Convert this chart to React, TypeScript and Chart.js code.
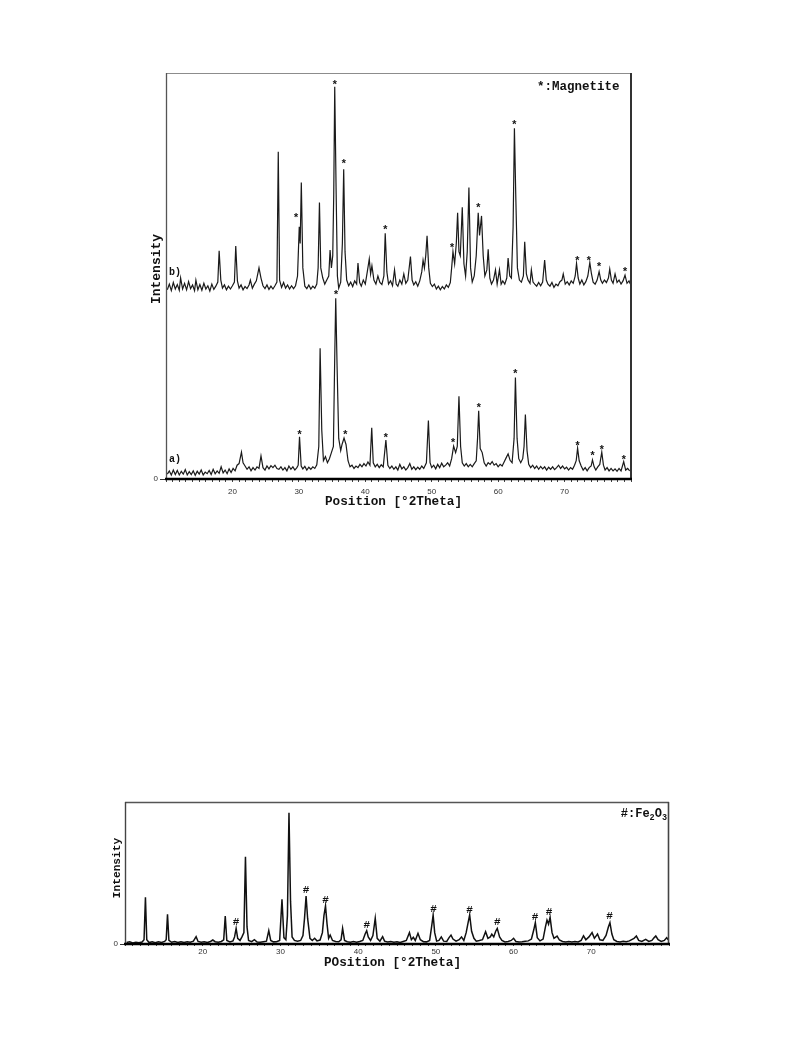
import React, { useEffect, useRef } from "react";
import { Chart, registerables } from "chart.js";

Chart.register(...registerables);

// ---------------- data ----------------
const thetaMin = 10;
const thetaMax = 80;
const xTickLabels = [20, 30, 40, 50, 60, 70];
const yTickLabels = [0];

// pattern a) (lower trace, top panel) [2theta, intensity %]
const patternA: [number, number][] = [
  [10.2, 1.2], [10.5, 2.0], [10.8, 1.0], [11.1, 2.2], [11.4, 1.1], [11.7, 2.1], [12.0, 1.0], [12.3, 1.9],
  [12.6, 1.2], [12.9, 2.3], [13.2, 1.0], [13.5, 1.8], [13.8, 1.1], [14.1, 2.0], [14.4, 0.9], [14.7, 1.9],
  [15.0, 1.2], [15.3, 2.2], [15.6, 1.0], [15.9, 1.7], [16.2, 1.3], [16.5, 2.1], [16.8, 1.1], [17.1, 2.4],
  [17.4, 1.3], [17.7, 2.0], [18.0, 1.4], [18.3, 3.0], [18.6, 1.5], [18.9, 2.2], [19.2, 1.3], [19.5, 2.5],
  [19.8, 1.6], [20.1, 2.6], [20.4, 2.0], [20.7, 3.4], [21.0, 3.8], [21.36, 6.6], [21.6, 4.0], [21.9, 3.2],
  [22.2, 2.4], [22.5, 3.0], [22.8, 2.0], [23.1, 2.8], [23.4, 2.2], [23.7, 3.0], [24.0, 2.6], [24.3, 5.7],
  [24.6, 2.8], [24.9, 2.2], [25.2, 3.2], [25.5, 2.5], [25.8, 3.3], [26.1, 2.8], [26.4, 3.4], [26.7, 2.6],
  [27.0, 2.4], [27.3, 3.0], [27.6, 2.2], [27.9, 2.8], [28.2, 2.0], [28.5, 3.2], [28.8, 2.4], [29.1, 3.0],
  [29.4, 2.2], [29.7, 2.8], [29.9, 3.4], [30.1, 10.4], [30.35, 3.2], [30.6, 2.5], [30.9, 3.1], [31.2, 2.2],
  [31.5, 2.9], [31.8, 2.4], [32.1, 3.0], [32.4, 2.6], [32.7, 3.5], [33.0, 8.0], [33.2, 32.2], [33.45, 12.0],
  [33.7, 4.5], [34.0, 5.5], [34.3, 4.0], [34.6, 5.0], [34.9, 6.5], [35.2, 8.0], [35.4, 30.0], [35.55, 44.5],
  [35.75, 28.0], [36.0, 10.0], [36.3, 7.0], [36.5, 8.5], [36.8, 10.1], [37.1, 8.5], [37.4, 4.5], [37.7, 3.0],
  [38.0, 3.4], [38.3, 2.6], [38.6, 3.2], [38.9, 2.8], [39.2, 3.6], [39.5, 3.0], [39.8, 3.8], [40.1, 3.2],
  [40.4, 4.2], [40.7, 3.4], [40.97, 12.6], [41.2, 4.0], [41.5, 3.0], [41.8, 3.6], [42.1, 2.8], [42.4, 3.5],
  [42.7, 3.0], [43.1, 9.6], [43.4, 3.4], [43.7, 2.6], [44.0, 3.2], [44.3, 2.4], [44.6, 3.0], [44.9, 2.2],
  [45.2, 3.6], [45.5, 2.5], [45.8, 3.0], [46.1, 2.2], [46.4, 2.8], [46.7, 3.8], [47.0, 2.4], [47.3, 3.0],
  [47.6, 2.3], [47.9, 2.9], [48.2, 2.4], [48.5, 3.2], [48.8, 2.6], [49.2, 4.0], [49.5, 14.4], [49.75, 4.0],
  [50.0, 2.8], [50.3, 3.4], [50.6, 2.5], [50.9, 3.6], [51.2, 2.8], [51.5, 3.9], [51.8, 3.0], [52.1, 3.4],
  [52.4, 4.0], [52.7, 3.2], [53.0, 5.0], [53.3, 8.1], [53.6, 6.5], [53.85, 8.0], [54.1, 20.4], [54.35, 8.0],
  [54.6, 4.0], [54.9, 3.2], [55.2, 3.8], [55.5, 3.0], [55.8, 3.6], [56.1, 3.0], [56.4, 3.8], [56.7, 4.5],
  [56.9, 10.0], [57.07, 16.8], [57.3, 7.5], [57.6, 6.5], [57.9, 4.0], [58.2, 3.2], [58.5, 4.0], [58.8, 3.6],
  [59.1, 4.3], [59.4, 3.4], [59.7, 3.8], [60.0, 3.0], [60.3, 3.6], [60.6, 3.2], [60.9, 4.2], [61.2, 5.2],
  [61.5, 6.2], [61.8, 4.6], [62.1, 4.0], [62.4, 10.0], [62.6, 25.0], [62.85, 10.0], [63.1, 5.0], [63.4, 4.0],
  [63.7, 5.0], [63.9, 8.0], [64.1, 15.9], [64.35, 7.0], [64.6, 3.6], [64.9, 2.8], [65.2, 3.4], [65.5, 2.6],
  [65.8, 3.2], [66.1, 2.4], [66.4, 3.1], [66.7, 2.5], [67.0, 3.0], [67.3, 2.2], [67.6, 2.9], [67.9, 2.4],
  [68.2, 3.0], [68.5, 2.3], [68.8, 2.8], [69.1, 3.4], [69.4, 2.6], [69.7, 3.2], [70.0, 2.5], [70.3, 2.9],
  [70.6, 2.2], [70.9, 2.8], [71.2, 2.4], [71.5, 3.4], [71.75, 4.5], [71.96, 7.6], [72.2, 4.5], [72.5, 3.2],
  [72.8, 2.2], [73.1, 2.8], [73.4, 2.0], [73.7, 2.8], [74.0, 3.2], [74.2, 4.7], [74.45, 3.0], [74.7, 2.2],
  [75.0, 3.0], [75.3, 3.6], [75.6, 6.6], [75.85, 3.4], [76.1, 2.2], [76.4, 2.8], [76.7, 2.0], [77.0, 2.6],
  [77.3, 2.0], [77.6, 2.5], [77.9, 1.9], [78.2, 2.6], [78.5, 2.0], [78.9, 4.3], [79.2, 2.2], [79.5, 2.6],
  [79.8, 2.0],
];

// pattern b) (upper trace, top panel, plotted with its offset)
const patternB: [number, number][] = [
  [10.2, 46.6], [10.5, 48.0], [10.8, 46.4], [11.1, 48.4], [11.4, 46.8], [11.7, 47.9], [12.0, 46.5], [12.2, 49.5],
  [12.5, 46.8], [12.8, 48.2], [13.1, 46.6], [13.4, 48.6], [13.7, 46.9], [14.0, 47.8], [14.3, 46.4], [14.5, 49.0],
  [14.8, 46.6], [15.1, 47.9], [15.4, 46.5], [15.7, 48.2], [16.0, 46.8], [16.3, 47.6], [16.6, 46.3], [16.9, 48.0],
  [17.2, 46.7], [17.5, 47.5], [17.8, 48.5], [18.0, 56.2], [18.25, 49.0], [18.5, 47.0], [18.8, 47.8], [19.1, 46.6],
  [19.4, 47.5], [19.7, 46.8], [20.0, 47.6], [20.3, 48.5], [20.5, 57.4], [20.75, 48.8], [21.0, 47.0], [21.3, 47.8],
  [21.6, 46.6], [21.9, 47.4], [22.2, 46.9], [22.5, 47.8], [22.7, 49.0], [23.0, 47.0], [23.3, 48.0], [23.6, 48.8],
  [24.0, 52.0], [24.3, 49.5], [24.6, 47.6], [24.9, 46.9], [25.2, 47.8], [25.5, 46.7], [25.8, 47.5], [26.1, 46.8],
  [26.4, 47.6], [26.7, 48.5], [26.9, 80.6], [27.1, 49.0], [27.4, 47.2], [27.7, 48.4], [28.0, 47.0], [28.3, 47.8],
  [28.6, 46.8], [28.9, 47.6], [29.2, 46.9], [29.5, 47.6], [29.8, 50.0], [30.06, 62.1], [30.2, 58.0], [30.37, 73.0],
  [30.6, 52.0], [30.9, 47.5], [31.2, 46.9], [31.5, 47.8], [31.8, 46.8], [32.1, 47.5], [32.4, 47.0], [32.7, 48.0],
  [32.9, 52.0], [33.1, 68.1], [33.3, 52.0], [33.6, 49.5], [33.9, 48.0], [34.2, 49.0], [34.5, 50.0], [34.7, 56.4],
  [34.9, 52.0], [35.1, 55.0], [35.25, 70.0], [35.4, 96.6], [35.6, 72.0], [35.8, 50.0], [36.0, 47.0], [36.3, 48.5],
  [36.55, 58.0], [36.75, 76.3], [36.95, 56.0], [37.2, 49.0], [37.5, 47.6], [37.8, 48.5], [38.1, 47.4], [38.4, 48.8],
  [38.7, 48.0], [38.9, 53.2], [39.15, 48.4], [39.4, 47.5], [39.7, 49.0], [40.0, 48.0], [40.3, 51.0], [40.6, 54.2],
  [40.8, 50.5], [41.0, 52.5], [41.3, 49.0], [41.6, 48.0], [41.9, 50.0], [42.2, 48.4], [42.5, 47.9], [42.8, 50.0],
  [43.0, 60.5], [43.25, 51.0], [43.5, 48.0], [43.8, 48.8], [44.1, 47.6], [44.4, 51.5], [44.65, 48.0], [44.9, 47.5],
  [45.2, 49.0], [45.5, 48.0], [45.8, 50.5], [46.1, 48.2], [46.4, 49.0], [46.8, 54.8], [47.05, 49.0], [47.3, 47.8],
  [47.6, 48.6], [47.9, 47.5], [48.2, 48.8], [48.5, 51.0], [48.7, 53.9], [48.9, 52.0], [49.1, 55.0], [49.3, 59.9],
  [49.55, 52.0], [49.8, 48.2], [50.1, 47.4], [50.4, 48.0], [50.7, 46.8], [51.0, 47.5], [51.3, 46.6], [51.6, 47.4],
  [51.9, 46.8], [52.2, 47.8], [52.5, 47.2], [52.8, 48.4], [53.0, 52.0], [53.2, 56.0], [53.45, 53.0], [53.7, 58.0],
  [53.9, 65.6], [54.1, 56.0], [54.3, 55.0], [54.6, 66.9], [54.85, 53.0], [55.1, 50.0], [55.35, 56.0], [55.6, 71.8],
  [55.85, 52.0], [56.1, 48.5], [56.4, 50.0], [56.7, 55.0], [57.0, 65.6], [57.2, 60.0], [57.5, 64.8], [57.75, 55.0],
  [58.0, 50.0], [58.3, 51.5], [58.5, 56.6], [58.75, 49.5], [59.0, 48.0], [59.3, 49.0], [59.6, 51.5], [59.85, 48.0],
  [60.2, 51.5], [60.45, 48.0], [60.7, 48.8], [61.0, 48.0], [61.3, 49.5], [61.5, 54.4], [61.75, 50.0], [62.0, 49.5],
  [62.25, 62.0], [62.45, 86.4], [62.65, 70.0], [62.9, 52.0], [63.2, 49.0], [63.5, 48.5], [63.8, 50.0], [64.0, 58.4],
  [64.25, 50.5], [64.5, 49.0], [64.8, 48.2], [65.0, 51.5], [65.25, 48.5], [65.5, 48.0], [65.8, 47.5], [66.1, 48.4],
  [66.4, 47.6], [66.7, 48.5], [67.0, 53.9], [67.25, 49.0], [67.5, 48.0], [67.8, 47.5], [68.1, 48.4], [68.4, 47.2],
  [68.7, 48.0], [69.0, 47.6], [69.3, 48.6], [69.6, 49.0], [69.8, 50.5], [70.1, 48.0], [70.4, 48.6], [70.7, 47.8],
  [71.0, 48.8], [71.3, 48.2], [71.6, 50.0], [71.8, 53.1], [72.05, 49.5], [72.3, 48.0], [72.6, 49.0], [72.9, 47.8],
  [73.2, 48.6], [73.5, 50.0], [73.8, 53.3], [74.05, 50.5], [74.3, 48.5], [74.6, 48.0], [74.9, 49.0], [75.2, 51.1],
  [75.45, 49.0], [75.7, 48.2], [76.0, 49.0], [76.3, 48.4], [76.6, 49.5], [76.8, 51.7], [77.05, 49.0], [77.3, 48.2],
  [77.6, 50.5], [77.9, 48.4], [78.2, 49.0], [78.5, 48.0], [78.8, 48.8], [79.1, 50.2], [79.4, 48.2], [79.7, 48.8],
  [79.9, 48.0],
];

// magnetite (*) marks: [2theta, intensity level of the mark]
const magnetiteMarksA: [number, number][] = [
  [30.1, 11.4], [35.6, 45.9], [37.0, 11.4], [43.1, 10.8], [53.2, 9.4], [57.07, 18.0],
  [62.6, 26.5], [71.96, 8.8], [74.2, 6.3], [75.6, 7.8], [78.9, 5.2],
];
const magnetiteMarksB: [number, number][] = [
  [29.57, 65.0], [35.4, 97.6], [36.75, 78.2], [43.0, 61.9], [53.05, 57.6], [57.0, 67.3],
  [62.45, 87.9], [71.9, 54.4], [73.66, 54.4], [75.2, 52.9], [79.1, 51.7],
];
const traceLabels: [string, number][] = [["a)", 4.85], ["b)", 51.1]];

// Fe2O3 pattern (bottom panel)
const patternFe2O3: [number, number][] = [
  [10.2, 1.0], [10.6, 1.5], [11.0, 0.8], [11.4, 1.3], [11.8, 0.9], [12.2, 1.4], [12.45, 3.0], [12.63, 32.9],
  [12.8, 3.0], [13.1, 1.0], [13.5, 1.5], [13.9, 0.9], [14.3, 1.6], [14.7, 1.1], [15.1, 1.8], [15.3, 3.0],
  [15.47, 20.9], [15.65, 2.5], [16.0, 1.2], [16.4, 1.8], [16.8, 1.1], [17.2, 1.6], [17.6, 1.0], [18.0, 1.5],
  [18.4, 1.2], [18.8, 2.0], [19.15, 5.2], [19.4, 1.8], [19.8, 1.2], [20.2, 1.6], [20.6, 1.1], [21.0, 1.8],
  [21.3, 2.8], [21.6, 1.6], [22.0, 1.2], [22.4, 1.8], [22.7, 3.0], [22.9, 19.7], [23.1, 2.5], [23.5, 1.5],
  [23.9, 2.2], [24.1, 5.0], [24.3, 11.0], [24.5, 4.0], [24.8, 2.5], [25.05, 5.0], [25.3, 8.0], [25.5, 61.5],
  [25.7, 12.0], [25.9, 2.5], [26.3, 1.6], [26.65, 3.0], [27.0, 1.4], [27.4, 1.2], [27.8, 1.6], [28.2, 2.0],
  [28.5, 9.4], [28.75, 2.5], [29.1, 1.5], [29.5, 1.6], [29.9, 2.5], [30.2, 31.5], [30.45, 4.5], [30.7, 3.0],
  [30.9, 20.0], [31.1, 92.5], [31.3, 30.0], [31.5, 5.0], [31.8, 2.5], [32.2, 2.0], [32.6, 2.5], [32.9, 6.0],
  [33.1, 18.0], [33.3, 33.8], [33.5, 18.0], [33.8, 4.0], [34.1, 2.5], [34.4, 4.0], [34.7, 2.2], [35.1, 2.8],
  [35.4, 8.0], [35.6, 20.0], [35.8, 26.8], [36.0, 14.0], [36.2, 4.0], [36.4, 6.3], [36.7, 2.5], [37.1, 1.8],
  [37.5, 1.6], [37.8, 3.0], [38.0, 11.0], [38.25, 2.5], [38.6, 1.6], [39.0, 1.2], [39.4, 1.8], [39.8, 1.3],
  [40.2, 1.8], [40.6, 2.5], [40.9, 7.0], [41.1, 9.4], [41.3, 5.0], [41.6, 2.5], [41.9, 6.0], [42.2, 18.1],
  [42.45, 4.0], [42.8, 2.0], [43.15, 5.2], [43.4, 2.0], [43.8, 1.4], [44.2, 1.8], [44.6, 1.2], [45.0, 1.6],
  [45.4, 1.1], [45.8, 1.8], [46.2, 2.5], [46.6, 8.0], [46.85, 3.0], [47.1, 4.7], [47.35, 2.5], [47.7, 7.5],
  [48.0, 3.0], [48.4, 1.6], [48.8, 1.5], [49.2, 2.5], [49.45, 12.0], [49.65, 20.4], [49.85, 8.0], [50.1, 2.0],
  [50.4, 2.5], [50.7, 5.0], [51.0, 2.0], [51.4, 1.8], [51.7, 4.5], [51.95, 6.3], [52.2, 3.5], [52.6, 2.0],
  [53.0, 3.0], [53.3, 5.0], [53.6, 2.5], [53.9, 8.0], [54.15, 15.0], [54.35, 20.4], [54.6, 9.0], [54.9, 4.0],
  [55.2, 2.0], [55.6, 2.4], [56.0, 3.0], [56.4, 8.7], [56.7, 4.0], [57.0, 5.0], [57.2, 7.0], [57.45, 5.0],
  [57.7, 9.0], [57.9, 11.0], [58.2, 5.0], [58.5, 2.5], [58.9, 1.5], [59.3, 1.8], [59.7, 2.5], [60.0, 4.0],
  [60.3, 1.8], [60.7, 1.4], [61.1, 1.6], [61.5, 2.0], [61.9, 2.2], [62.3, 3.5], [62.6, 10.0], [62.8, 15.0],
  [63.05, 4.5], [63.4, 2.2], [63.8, 3.5], [64.1, 12.0], [64.3, 16.9], [64.5, 14.0], [64.7, 18.8], [64.95, 8.0],
  [65.2, 4.0], [65.6, 5.6], [65.9, 2.8], [66.3, 1.8], [66.7, 1.5], [67.1, 1.8], [67.5, 1.4], [67.9, 1.8],
  [68.3, 1.5], [68.7, 2.5], [69.0, 5.8], [69.3, 3.0], [69.7, 5.0], [70.1, 8.0], [70.4, 4.0], [70.8, 7.0],
  [71.1, 3.0], [71.5, 2.5], [71.9, 6.0], [72.2, 12.0], [72.4, 15.0], [72.65, 7.0], [72.9, 3.0], [73.3, 1.8],
  [73.7, 1.5], [74.1, 2.0], [74.5, 1.6], [74.9, 2.2], [75.5, 4.0], [75.8, 5.6], [76.1, 2.5], [76.5, 1.8],
  [77.0, 3.3], [77.4, 1.8], [77.8, 2.5], [78.1, 4.5], [78.3, 5.6], [78.6, 3.0], [79.0, 1.8], [79.4, 2.5],
  [79.7, 4.4], [79.9, 3.0],
];

// hematite (#) marks: [2theta, intensity level of the mark]
const hematiteMarks: [number, number][] = [
  [24.3, 15.7], [33.3, 38.5], [35.8, 31.5], [41.1, 13.9], [49.7, 25.1],
  [54.35, 24.6], [57.9, 15.7], [62.75, 19.7], [64.55, 23.2], [72.35, 19.9],
];

// ---------------- helpers ----------------
const MONO = '"Liberation Mono", "DejaVu Sans Mono", "Courier New", monospace';
const SANS = '"Liberation Sans", Arial, sans-serif';

function centeredText(ctx: CanvasRenderingContext2D, text: string, cx: number, cy: number, align: CanvasTextAlign = "center") {
  ctx.textAlign = align;
  ctx.textBaseline = "alphabetic";
  const m = ctx.measureText(text);
  ctx.fillText(text, cx, cy + (m.actualBoundingBoxAscent - m.actualBoundingBoxDescent) / 2);
}

function line(ctx: CanvasRenderingContext2D, x1: number, y1: number, x2: number, y2: number, color: string, w: number) {
  ctx.strokeStyle = color;
  ctx.lineWidth = w;
  ctx.beginPath();
  ctx.moveTo(x1, y1);
  ctx.lineTo(x2, y2);
  ctx.stroke();
}

function toPoints(arr: [number, number][]) {
  return arr.map(([x, y]) => ({ x, y }));
}

function makeOptions(o: {
  padTop: number; padRight: number; yWidth: number; xHeight: number;
  xTickLen: number; xTickPad: number; yTickLen: number; yTickPad: number;
}): any {
  return {
    responsive: false,
    animation: false,
    events: [],
    layout: { padding: { left: 0, top: o.padTop, right: o.padRight, bottom: 0 } },
    plugins: { legend: { display: false }, tooltip: { enabled: false }, title: { display: false } },
    elements: { point: { radius: 0 }, line: { tension: 0 } },
    scales: {
      x: {
        type: "linear",
        min: thetaMin,
        max: thetaMax,
        border: { display: false },
        grid: { drawOnChartArea: false, drawTicks: true, tickLength: o.xTickLen, tickColor: "#444", tickWidth: 1 },
        ticks: {
          stepSize: 1,
          autoSkip: false,
          maxRotation: 0,
          maxTicksLimit: 200,
          padding: o.xTickPad,
          color: "#333",
          font: { family: SANS, size: 8 },
          callback: (v: any) => (xTickLabels.includes(Number(v)) ? String(v) : ""),
        },
        afterFit: (s: any) => { s.height = o.xHeight; },
      },
      y: {
        type: "linear",
        min: 0,
        max: 100,
        border: { display: false },
        grid: { drawOnChartArea: false, drawTicks: true, tickLength: o.yTickLen, tickColor: "#333", tickWidth: 1 },
        afterBuildTicks: (s: any) => { s.ticks = yTickLabels.map((v) => ({ value: v })); },
        ticks: {
          padding: o.yTickPad,
          color: "#333",
          font: { family: SANS, size: 8 },
          callback: (v: any) => String(v),
        },
        afterFit: (s: any) => { s.width = o.yWidth; },
      },
    },
  };
}

const topDecor = {
  id: "topDecor",
  afterDatasetsDraw(chart: any) {
    const { ctx, chartArea: ca, scales } = chart;
    const x = scales.x, y = scales.y;
    ctx.save();
    // frame
    line(ctx, ca.left, ca.top + 0.5, ca.right, ca.top + 0.5, "#8c8c8c", 1);
    line(ctx, ca.left + 0.5, ca.top, ca.left + 0.5, ca.bottom, "#555", 1.3);
    line(ctx, ca.right, ca.top, ca.right, ca.bottom + 1, "#333", 2);
    line(ctx, ca.left - 1, ca.bottom, ca.right + 1, ca.bottom, "#000", 2.4);
    // magnetite marks
    ctx.fillStyle = "#111";
    ctx.font = `bold 11px ${MONO}`;
    [...magnetiteMarksA, ...magnetiteMarksB].forEach(([t, v]) => {
      centeredText(ctx, "*", x.getPixelForValue(t), y.getPixelForValue(v));
    });
    // trace labels
    ctx.font = `bold 10px ${MONO}`;
    traceLabels.forEach(([lab, v]) => {
      centeredText(ctx, lab, ca.left + 3, y.getPixelForValue(v), "left");
    });
    // legend
    ctx.font = `bold 12.5px ${MONO}`;
    centeredText(ctx, "*:Magnetite", ca.right - 11.5, ca.top + 14, "right");
    // axis titles
    ctx.font = `bold 12.7px ${MONO}`;
    centeredText(ctx, "Position [°2Theta]", (ca.left + ca.right) / 2 - 5, ca.bottom + 23);
    ctx.save();
    ctx.translate(ca.left - 9.5, ca.top + 196);
    ctx.rotate(-Math.PI / 2);
    ctx.font = `bold 13px ${MONO}`;
    centeredText(ctx, "Intensity", 0, 0);
    ctx.restore();
    ctx.restore();
  },
};

const bottomDecor = {
  id: "bottomDecor",
  afterDatasetsDraw(chart: any) {
    const { ctx, chartArea: ca, scales } = chart;
    const x = scales.x, y = scales.y;
    ctx.save();
    line(ctx, ca.left, ca.top + 0.5, ca.right, ca.top + 0.5, "#555", 1.4);
    line(ctx, ca.left + 0.5, ca.top, ca.left + 0.5, ca.bottom, "#444", 1.4);
    line(ctx, ca.right - 0.5, ca.top, ca.right - 0.5, ca.bottom, "#444", 1.6);
    line(ctx, ca.left - 1, ca.bottom, ca.right + 1, ca.bottom, "#000", 2.4);
    ctx.fillStyle = "#111";
    ctx.font = `bold 11px ${MONO}`;
    hematiteMarks.forEach(([t, v]) => {
      centeredText(ctx, "#", x.getPixelForValue(t), y.getPixelForValue(v));
    });
    // legend "#:Fe2O3"
    const big = `bold 12px ${MONO}`;
    const small = `bold 8.5px ${MONO}`;
    const parts: [string, string, number][] = [["#:Fe", big, 0], ["2", small, 2.5], ["O", big, 0], ["3", small, 2.5]];
    let total = 0;
    parts.forEach(([t, f]) => { ctx.font = f; total += ctx.measureText(t).width; });
    let cx = ca.right - 2 - total;
    const cy = ca.top + 10.5;
    ctx.font = big;
    const mm = ctx.measureText("F");
    const base = cy + mm.actualBoundingBoxAscent / 2;
    ctx.textAlign = "left";
    ctx.textBaseline = "alphabetic";
    parts.forEach(([t, f, d]) => {
      ctx.font = f;
      ctx.fillText(t, cx, base + d);
      cx += ctx.measureText(t).width;
    });
    // axis titles
    ctx.font = `bold 12.7px ${MONO}`;
    centeredText(ctx, "POsition [°2Theta]", (ca.left + ca.right) / 2 - 4.5, ca.bottom + 19);
    ctx.save();
    ctx.translate(ca.left - 8, ca.top + 66);
    ctx.rotate(-Math.PI / 2);
    ctx.font = `bold 11.2px ${MONO}`;
    centeredText(ctx, "Intensity", 0, 0);
    ctx.restore();
    ctx.restore();
  },
};

function XrdChart(props: { left: number; top: number; width: number; height: number; make: () => any }) {
  const ref = useRef<HTMLCanvasElement | null>(null);
  useEffect(() => {
    if (!ref.current) return;
    const chart = new Chart(ref.current, props.make());
    return () => chart.destroy();
  }, []);
  return (
    <canvas
      ref={ref}
      width={props.width}
      height={props.height}
      style={{ position: "absolute", left: props.left, top: props.top, width: props.width, height: props.height }}
    />
  );
}

const topLineStyle = { borderColor: "#1a1a1a", borderWidth: 1.2, pointRadius: 0, fill: false, tension: 0 };
const bottomLineStyle = { borderColor: "#111", borderWidth: 1.5, pointRadius: 0, fill: false, tension: 0 };

export default function App() {
  const makeTop = () => ({
    type: "line",
    data: {
      datasets: [
        { label: "a)", data: toPoints(patternA), ...topLineStyle },
        { label: "b)", data: toPoints(patternB), ...topLineStyle },
      ],
    },
    options: makeOptions({ padTop: 13, padRight: 29, yWidth: 66, xHeight: 51, xTickLen: 3, xTickPad: 5, yTickLen: 6, yTickPad: 2 }),
    plugins: [topDecor],
  });
  const makeBottom = () => ({
    type: "line",
    data: {
      datasets: [{ label: "Fe2O3", data: toPoints(patternFe2O3), ...bottomLineStyle }],
    },
    options: makeOptions({ padTop: 12, padRight: 31, yWidth: 65, xHeight: 46, xTickLen: 2, xTickPad: 1, yTickLen: 5, yTickPad: 2 }),
    plugins: [bottomDecor],
  });
  return (
    <div style={{ position: "absolute", left: 0, top: 0, width: 793, height: 1057, background: "#fff" }}>
      <XrdChart left={100} top={60} width={560} height={470} make={makeTop} />
      <XrdChart left={60} top={790} width={640} height={200} make={makeBottom} />
    </div>
  );
}
